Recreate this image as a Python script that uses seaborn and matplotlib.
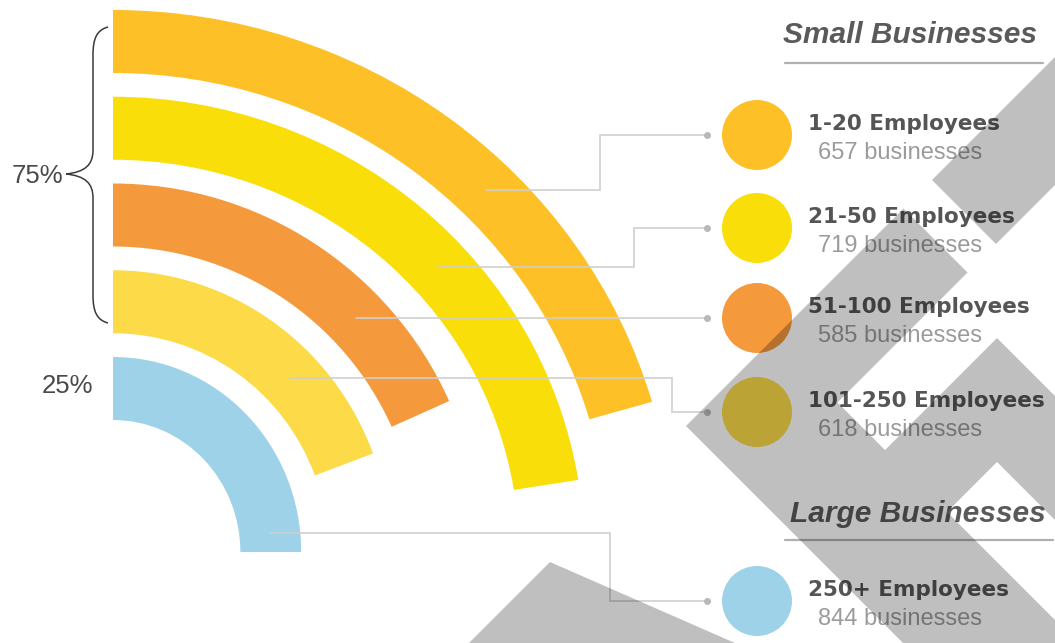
import numpy as np
import matplotlib
matplotlib.use("Agg")
import matplotlib.pyplot as plt
from matplotlib.patches import Wedge, Polygon, PathPatch
from matplotlib.path import Path
from matplotlib.transforms import Affine2D
import seaborn as sns

# data
groups = ["1-20 Employees", "21-50 Employees", "51-100 Employees",
          "101-250 Employees", "250+ Employees"]
businesses = [657, 719, 585, 618, 844]
colors = ["#FDC026", "#F9DE0A", "#F4993C", "#FCDA48", "#9DD2E8"]
share_labels = ["75%", "25%"]
section_titles = ["Small Businesses", "Large Businesses"]

sns.set_theme(style="white")
plt.rcParams["font.family"] = ["Liberation Sans", "DejaVu Sans"]

W, H = 1055, 643
fig = plt.figure(figsize=(W / 100, H / 100), dpi=100)
ax = fig.add_axes([0, 0, 1, 1])
ax.set_xlim(0, W)
ax.set_ylim(H, 0)
ax.axis("off")

# ---- arcs (outer rings drawn a touch wider than tall, like the source) ----
CX, CY = 113, 552
R_IN_OUTER = 195      # outer radius of the innermost ring
PITCH = 86.75
RING_W = 63
DEG_PER_BIZ = 0.1125
xscale = [1.035, 1.035, 1.0, 0.985, 0.965]

n = len(groups)
outer_r = [R_IN_OUTER + PITCH * (n - 1 - i) for i in range(n)]
for i, (cnt, col) in enumerate(zip(businesses, colors)):
    span = min(90, cnt * DEG_PER_BIZ)
    tf = Affine2D().scale(xscale[i], 1) + ax.transData
    ax.add_patch(Wedge((CX / xscale[i], CY), outer_r[i], -90, -90 + span,
                       width=RING_W, facecolor=col, edgecolor="none",
                       transform=tf, zorder=1))

# ---- legend circles and labels ----
circle_y = [135, 228, 318, 412, 601]
circle_x = 757
sns.scatterplot(x=[circle_x] * n, y=circle_y, hue=groups, palette=colors,
                s=2540, linewidth=0, legend=False, ax=ax, zorder=3)

for i in range(n):
    ax.text(808, circle_y[i] - 5, groups[i], fontsize=15.5, fontweight="bold",
            color="#555555", family=["DejaVu Sans"], va="baseline", ha="left")
    ax.text(818, circle_y[i] + 24, f"{businesses[i]} businesses", fontsize=17,
            color="#9b9b9b", va="baseline", ha="left")

# ---- leader lines ----
leader_y = [190, 267, 318, 378, 533]
elbow_x = [600, 634, None, 672, 610]
dot_x = 707
for i in range(n):
    r_mid = outer_r[i] - RING_W / 2
    x0 = CX + xscale[i] * np.sqrt(r_mid ** 2 - (CY - leader_y[i]) ** 2)
    if elbow_x[i] is None:
        xs = [x0, dot_x]
        ys = [leader_y[i], leader_y[i]]
    else:
        xs = [x0, elbow_x[i], elbow_x[i], dot_x]
        ys = [leader_y[i], leader_y[i], circle_y[i], circle_y[i]]
    ax.plot(xs, ys, color="#cfcfcf", lw=1.2, zorder=2, solid_joinstyle="miter")
    ax.plot([dot_x], [circle_y[i]], "o", color="#b8b8b8", ms=4, zorder=2)

# ---- section titles ----
ax.text(783, 43, section_titles[0], fontsize=21.5, fontweight="bold",
        fontstyle="italic", color="#5a5a5a", va="baseline", ha="left")
ax.plot([785, 1043], [63, 63], color="#b0b0b0", lw=1.6)
ax.text(790, 522, section_titles[1], fontsize=21.5, fontweight="bold",
        fontstyle="italic", color="#5a5a5a", va="baseline", ha="left")
ax.plot([785, 1053], [540, 540], color="#b0b0b0", lw=1.6)

# ---- brace and shares ----
brace = Path([(108, 27), (97, 30), (93, 38), (93, 55),
              (93, 150),
              (93, 165), (85, 172), (66, 174),
              (85, 176), (93, 183), (93, 198),
              (93, 295),
              (93, 312), (97, 320), (108, 323)],
             [Path.MOVETO, Path.CURVE4, Path.CURVE4, Path.CURVE4,
              Path.LINETO,
              Path.CURVE4, Path.CURVE4, Path.CURVE4,
              Path.CURVE4, Path.CURVE4, Path.CURVE4,
              Path.LINETO,
              Path.CURVE4, Path.CURVE4, Path.CURVE4])
ax.add_patch(PathPatch(brace, facecolor="none", edgecolor="#3a3a3a", lw=1.1))
ax.text(63, 183, share_labels[0], fontsize=18.5, color="#4a4a4a",
        ha="right", va="baseline")
ax.text(93, 393, share_labels[1], fontsize=18.5, color="#4a4a4a",
        ha="right", va="baseline")

# ---- grey watermark stripes on top ----
def uv(points):
    return [((u + v) / 2, (u - v) / 2) for u, v in points]

stripes = [
    uv([(1112, 752), (1240, 752), (1240, 1600), (1112, 1600)]),
    uv([(1112, 260), (1112, 695), (1240, 695), (1240, 435),
        (2200, 435), (2200, 260)]),
    uv([(1335, 435), (1335, 659), (2200, 659), (2200, 535),
        (1459, 535), (1459, 435)]),
    [(550, 562), (430, 682), (824, 682)],
]
for pts in stripes:
    ax.add_patch(Polygon(pts, closed=True, facecolor="black", alpha=0.25,
                         edgecolor="none", zorder=10))

fig.savefig("out.png", dpi=100)
